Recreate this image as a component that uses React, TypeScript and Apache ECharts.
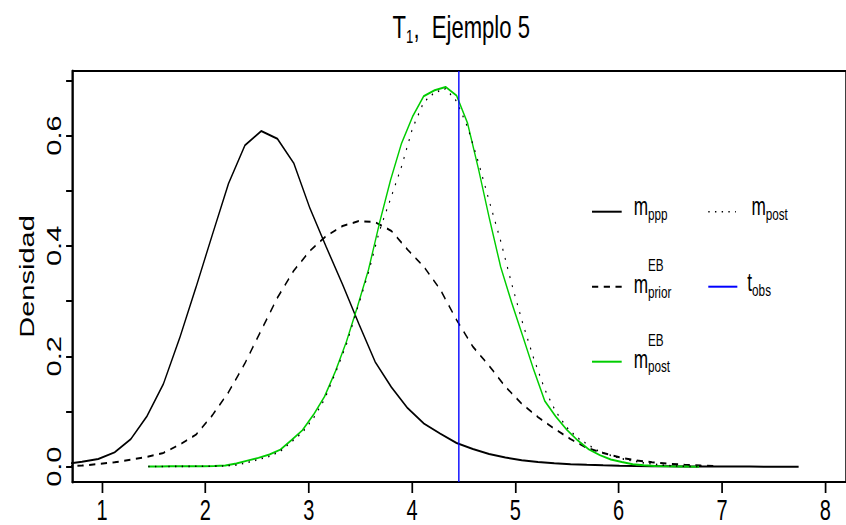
import React, { useEffect, useRef } from "react";
import * as echarts from "echarts";

// horizontal compression of the reference picture
const S = 0.69;
const W = 1226;
const H = 525;
const FONT = "'Liberation Sans', Arial, Helvetica, sans-serif";

const xTicks = [1, 2, 3, 4, 5, 6, 7, 8];
const yTicks = [0, 0.1, 0.2, 0.3, 0.4, 0.5, 0.6, 0.7];
const yLabels = [0, 0.2, 0.4, 0.6];

// m_ppp (solid black)
const pppX = [0.648, 0.806, 0.963, 1.121, 1.278, 1.436, 1.594, 1.751, 1.909, 2.067, 2.224, 2.382, 2.54, 2.697, 2.855, 3.012, 3.17, 3.328, 3.485, 3.643, 3.801, 3.958, 4.116, 4.273, 4.431, 4.589, 4.746, 4.904, 5.062, 5.219, 5.377, 5.535, 5.692, 5.85, 6.008, 6.165, 6.323, 6.48, 6.638, 6.796, 6.953, 7.111, 7.269, 7.426, 7.584, 7.742];
const pppY = [0.005, 0.009, 0.014, 0.026, 0.05, 0.092, 0.15, 0.233, 0.325, 0.42, 0.513, 0.582, 0.608, 0.594, 0.55, 0.468, 0.398, 0.33, 0.259, 0.19, 0.144, 0.106, 0.078, 0.06, 0.043, 0.032, 0.023, 0.0167, 0.0116, 0.0085, 0.0062, 0.0046, 0.0034, 0.0025, 0.0018, 0.0013, 0.001, 0.0007, 0.0005, 0.0004, 0.0003, 0.0002, 0.0002, 0.0001, 0.0001, 0.0001];

// m_prior^EB (dashed black)
const priorX = [0.648, 0.806, 0.963, 1.121, 1.278, 1.436, 1.594, 1.751, 1.909, 2.067, 2.224, 2.382, 2.54, 2.697, 2.855, 3.012, 3.17, 3.328, 3.485, 3.643, 3.801, 3.958, 4.116, 4.273, 4.431, 4.589, 4.746, 4.904, 5.062, 5.219, 5.377, 5.535, 5.692, 5.85, 6.008, 6.165, 6.323, 6.48, 6.638, 6.796, 6.953];
const priorY = [0.001, 0.002, 0.005, 0.008, 0.0125, 0.018, 0.025, 0.04, 0.058, 0.093, 0.135, 0.187, 0.247, 0.306, 0.355, 0.391, 0.418, 0.436, 0.445, 0.443, 0.427, 0.393, 0.362, 0.321, 0.266, 0.2175, 0.183, 0.145, 0.114, 0.09, 0.069, 0.05, 0.034, 0.025, 0.017, 0.0115, 0.0082, 0.0055, 0.0035, 0.002, 0.001];

// m_post^EB (green) and m_post (dotted) share this grid
const postX = [1.447, 1.554, 1.66, 1.767, 1.873, 1.98, 2.087, 2.193, 2.3, 2.406, 2.513, 2.62, 2.726, 2.833, 2.939, 3.046, 3.153, 3.259, 3.366, 3.472, 3.579, 3.686, 3.792, 3.899, 4.005, 4.112, 4.219, 4.325, 4.432, 4.538, 4.645, 4.752, 4.858, 4.965, 5.071, 5.178, 5.285, 5.391, 5.498, 5.604, 5.711, 5.818, 5.924, 6.031, 6.137, 6.244, 6.351, 6.457, 6.564, 6.67, 6.777];
const postEBY = [0.0005, 0.0005, 0.0008, 0.001, 0.001, 0.001, 0.0012, 0.002, 0.006, 0.011, 0.016, 0.022, 0.031, 0.048, 0.066, 0.094, 0.127, 0.173, 0.227, 0.29, 0.357, 0.442, 0.519, 0.586, 0.634, 0.671, 0.682, 0.688, 0.672, 0.622, 0.538, 0.447, 0.362, 0.297, 0.237, 0.1755, 0.119, 0.091, 0.067, 0.0475, 0.0315, 0.021, 0.013, 0.0085, 0.0045, 0.0027, 0.0013, 0.0008, 0.0004, 0.0002, 0.0001];
const postY = [0.0003, 0.0003, 0.0005, 0.0006, 0.0007, 0.0008, 0.001, 0.0015, 0.003, 0.0075, 0.013, 0.019, 0.028, 0.045, 0.062, 0.088, 0.122, 0.17, 0.222, 0.287, 0.352, 0.428, 0.485, 0.544, 0.613, 0.66, 0.678, 0.6845, 0.662, 0.615, 0.55, 0.478, 0.409, 0.331, 0.26, 0.196, 0.14, 0.1, 0.071, 0.052, 0.039, 0.027, 0.0205, 0.0145, 0.0107, 0.007, 0.0044, 0.0022, 0.0012, 0.0006, 0.0003];

const tObs = 4.445;

const GREEN = "#00CD00";
const BLUE = "#0000FF";
const DASH = [9, 8];
const DOT = [2, 7.7];

const pairs = (xs: number[], ys: number[]) => xs.map((x, i) => [x, ys[i]]);

function txt(x: number, y: number, text: string, size: number) {
  return {
    type: "text",
    x,
    y,
    silent: true,
    style: { text, fontSize: size, fontFamily: FONT, fontWeight: "normal", fill: "#000", align: "left", verticalAlign: "middle" },
  };
}
function seg(x1: number, x2: number, y: number, color: string, width: number, dash?: number[]) {
  return {
    type: "line",
    silent: true,
    shape: { x1, y1: y, x2, y2: y },
    style: { stroke: color, lineWidth: width, lineDash: dash || null },
  };
}

export default function App() {
  const ref = useRef<HTMLDivElement>(null);
  useEffect(() => {
    if (!ref.current) return;
    const chart = echarts.init(ref.current, null, { renderer: "svg" });
    const option: any = {
      animation: false,
      backgroundColor: "#fff",
      title: {
        text: "{t|T}{s|1}{t|,\u00a0\u00a0Ejemplo 5}",
        left: 569,
        top: 11,
        padding: 0,
        textStyle: {
          fontWeight: "normal",
          fontFamily: FONT,
          rich: {
            t: { fontSize: 32, lineHeight: 32, fontFamily: FONT, fontWeight: "normal", color: "#000", verticalAlign: "top" },
            s: { fontSize: 19, lineHeight: 19, fontFamily: FONT, fontWeight: "normal", color: "#000", verticalAlign: "top", padding: [16, 0, 0, 0] },
          },
        },
      },
      grid: { left: 104.8, top: 71, width: 1122.2, height: 411, show: true, borderColor: "#000", borderWidth: 2, containLabel: false },
      xAxis: {
        type: "value",
        min: 0.712,
        max: 8.2,
        axisLine: { show: true, onZero: false, lineStyle: { color: "#000", width: 2 } },
        axisTick: { show: true, customValues: xTicks, length: 11, lineStyle: { color: "#000", width: 2.5 } },
        axisLabel: { show: true, customValues: xTicks, margin: 13, fontSize: 29, fontFamily: FONT, color: "#000" },
        splitLine: { show: false },
      },
      yAxis: {
        type: "value",
        min: -0.0277,
        max: 0.7168,
        name: "Densidad",
        nameLocation: "middle",
        nameRotate: 90,
        nameGap: 52,
        nameTextStyle: { fontSize: 29, fontFamily: FONT, color: "#000" },
        axisLine: { show: true, onZero: false, lineStyle: { color: "#000", width: 3 } },
        axisTick: { show: true, customValues: yTicks, length: 9, lineStyle: { color: "#000", width: 2 } },
        axisLabel: {
          show: true,
          customValues: yLabels,
          rotate: 90,
          margin: 13,
          fontSize: 29,
          fontFamily: FONT,
          color: "#000",
          formatter: (v: number) => v.toFixed(1),
        },
        splitLine: { show: false },
      },
      series: [
        {
          name: "m_ppp",
          type: "line",
          data: pairs(pppX, pppY),
          showSymbol: false,
          symbol: "none",
          lineStyle: { color: "#000", width: 2 },
          z: 2,
        },
        {
          name: "m_prior_EB",
          type: "line",
          data: pairs(priorX, priorY),
          showSymbol: false,
          symbol: "none",
          lineStyle: { color: "#000", width: 2, type: DASH },
          z: 2,
        },
        {
          name: "m_post_EB",
          type: "line",
          data: pairs(postX, postEBY),
          showSymbol: false,
          symbol: "none",
          lineStyle: { color: GREEN, width: 2 },
          z: 3,
        },
        {
          name: "m_post",
          type: "line",
          data: pairs(postX, postY),
          showSymbol: false,
          symbol: "none",
          lineStyle: { color: "#000", width: 1.6, type: DOT },
          z: 4,
          markLine: {
            silent: true,
            symbol: ["none", "none"],
            label: { show: false },
            lineStyle: { color: BLUE, width: 2, type: "solid" },
            data: [{ xAxis: tObs }],
          },
        },
      ],
      graphic: [
        seg(858, 901, 211.7, "#000", 2),
        seg(858, 901, 286.7, "#000", 2, DASH),
        seg(858, 901, 361.7, GREEN, 2),
        seg(1026.5, 1066.5, 211.7, "#000", 1.6, DOT),
        seg(1026.5, 1068.6, 286.7, BLUE, 2),
        txt(918.6, 207.3, "m", 25),
        txt(939, 214.6, "ppp", 17),
        txt(918.6, 284.6, "m", 25),
        txt(939, 264.8, "EB", 17),
        txt(939, 292.6, "prior", 17),
        txt(918.6, 359.6, "m", 25),
        txt(939, 339.8, "EB", 17),
        txt(939, 366.6, "post", 17),
        txt(1089.3, 207.3, "m", 25),
        txt(1109.7, 214.6, "post", 17),
        txt(1083, 283, "t", 25),
        txt(1090, 290.1, "obs", 17),
      ],
    };
    chart.setOption(option);
    return () => chart.dispose();
  }, []);
  return (
    <div style={{ position: "absolute", left: 0, top: 0, width: 846, height: 525, overflow: "hidden", background: "#fff" }}>
      <div ref={ref} style={{ width: W, height: H, transform: `scaleX(${S})`, transformOrigin: "0 0" }} />
    </div>
  );
}
